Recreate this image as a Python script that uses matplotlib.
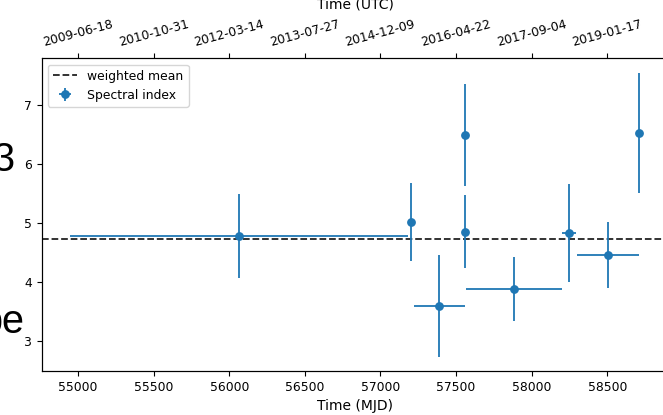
import matplotlib
matplotlib.use("Agg")
import matplotlib.pyplot as plt

# Data
mjd = [56065, 57200, 57390, 57562, 57562, 57882, 58250, 58505, 58712]
mjd_err = [1118, 0, 171, 0, 0, 316, 46, 203, 0]
index = [4.78, 5.02, 3.59, 6.49, 4.85, 3.88, 4.83, 4.45, 6.53]
index_err = [0.71, 0.66, 0.86, 0.86, 0.62, 0.54, 0.83, 0.56, 1.02]
weighted_mean = 4.73

mjd_ticks = [55000, 55500, 56000, 56500, 57000, 57500, 58000, 58500]
utc_labels = ["2009-06-18", "2010-10-31", "2012-03-14", "2013-07-27",
              "2014-12-09", "2016-04-22", "2017-09-04", "2019-01-17"]

W, H = 663, 415
fig = plt.figure(figsize=(W / 100, H / 100), dpi=100)
ax = fig.add_axes([41.6 / W, 1 - 371 / H, (667.7 - 41.6) / W, (371 - 58.4) / H])

ax.axhline(weighted_mean, color="#222222", ls="--", lw=1.3, label="weighted mean", zorder=1)
ax.errorbar(mjd, index, xerr=mjd_err, yerr=index_err, fmt="o", color="#1f77b4",
            ms=5.3, lw=1.3, label="Spectral index", zorder=2)

ax.set_xlim(54759, 58900)
ax.set_ylim(2.49, 7.79)
ax.set_xticks(mjd_ticks)
ax.set_yticks([3, 4, 5, 6, 7])
ax.tick_params(labelsize=8.9)
ax.set_xlabel("Time (MJD)", fontsize=10)
ax.legend(loc="upper left", fontsize=8.9)

ax2 = ax.twiny()
ax2.set_xlim(ax.get_xlim())
ax2.set_xticks(mjd_ticks)
ax2.set_xticklabels(utc_labels, rotation=15, fontsize=8.9)

fig.text(355 / W, 1 - 9 / H, "Time (UTC)", ha="center", va="baseline", fontsize=10)

# Large text partially visible at the left edge
fig.text(15 / W, 1 - 171 / H, "3", ha="right", va="baseline", fontsize=28.5,
         family="Liberation Sans")
fig.text(24 / W, 1 - 333 / H, "pe", ha="right", va="baseline", fontsize=28.5,
         family="Liberation Sans")

fig.savefig("out.png", dpi=100)
